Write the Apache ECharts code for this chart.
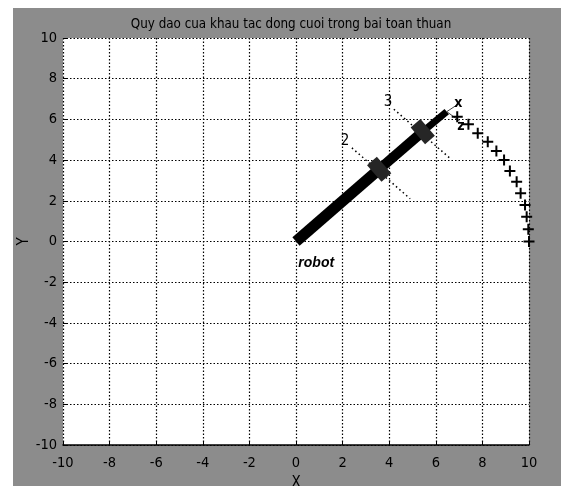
<!DOCTYPE html>
<html><head><meta charset="utf-8">
<script src="https://cdn.jsdelivr.net/npm/echarts@6/dist/echarts.min.js"></script>
<style>
html,body{margin:0;padding:0;background:#fff;}
#bg{position:absolute;left:13px;top:8px;width:548px;height:478px;background:#8c8c8c;}
#chart{position:absolute;left:0;top:0;width:561px;height:486px;}
</style></head>
<body><div id="bg"></div><div id="chart"></div>
<script>
// Axis ticks
const xTicks = [-10,-8,-6,-4,-2,0,2,4,6,8,10];
const yTicks = [-10,-8,-6,-4,-2,0,2,4,6,8,10];
// Robot arm joints (base, joint 2, joint 3, end effector)
const jointX = [0, 3.57, 5.44, 6.47];
const jointY = [0, 3.55, 5.40, 6.38];
// Trajectory of end effector ("+" markers)
const trajX = [6.92, 7.40, 7.80, 8.23, 8.60, 8.93, 9.18, 9.47, 9.64, 9.83, 9.90, 9.97, 10.0];
const trajY = [6.13, 5.76, 5.32, 4.90, 4.45, 4.00, 3.46, 2.94, 2.37, 1.79, 1.22, 0.60, 0.0];
// Dotted joint axis lines
const axis2X = [2.4, 4.9], axis2Y = [4.6, 2.1];
const axis3X = [4.2, 6.6], axis3Y = [6.5, 4.1];
// End-effector frame lines
const frameXx = [6.47, 6.92], frameXy = [6.38, 6.72];
const frameZx = [6.47, 7.02], frameZy = [6.38, 5.92];
// Text labels
const labelText = ['2', '3', 'x', 'z', 'robot'];
const labelX = [2.1, 3.95, 6.97, 7.08, 0.1];
const labelY = [4.95, 6.85, 6.8, 5.65, -1.05];

const font = '"DejaVu Sans Condensed","Liberation Sans Narrow","Arial Narrow","Liberation Sans",Arial,sans-serif';
const chart = echarts.init(document.getElementById('chart'));
const series = [];
const linkW = [11, 10, 7];
for (let i = 0; i < 3; i++) {
  series.push({type:'line', data:[[jointX[i],jointY[i]],[jointX[i+1],jointY[i+1]]], symbol:'none',
    lineStyle:{color:'#000', width:linkW[i], cap:'butt'}, silent:true, z:3});
}
series.push({type:'line', data:[[axis2X[0],axis2Y[0]],[axis2X[1],axis2Y[1]]], symbol:'none',
  lineStyle:{color:'#000', width:1.5, type:[1.5,3]}, z:2});
series.push({type:'line', data:[[axis3X[0],axis3Y[0]],[axis3X[1],axis3Y[1]]], symbol:'none',
  lineStyle:{color:'#000', width:1.5, type:[1.5,3]}, z:2});
series.push({type:'line', data:[[frameXx[0],frameXy[0]],[frameXx[1],frameXy[1]]], symbol:'none',
  lineStyle:{color:'#444', width:1}, z:4});
series.push({type:'line', data:[[frameZx[0],frameZy[0]],[frameZx[1],frameZy[1]]], symbol:'none',
  lineStyle:{color:'#444', width:1}, z:4});
// joints
series.push({type:'scatter', data:[[jointX[1],jointY[1]],[jointX[2],jointY[2]]], symbol:'rect',
  symbolSize:[13,22], symbolRotate:41, itemStyle:{color:'#262626', opacity:1}, z:5});
// trajectory
series.push({type:'scatter', data:trajX.map((x,i)=>[x,trajY[i]]), symbol:'path://M0,5L10,5M5,0L5,10',
  symbolSize:11, itemStyle:{color:'none', borderColor:'#000', borderWidth:2, opacity:1}, z:6});
// labels
const labelData = labelText.map((t,i)=>({value:[labelX[i],labelY[i]], name:t}));
labelData[4].label = {fontStyle:'italic', fontWeight:'bold', fontFamily:'"Liberation Sans",Arial,sans-serif', fontSize:14, align:'left'};
labelData[2].label = {fontWeight:'bold', fontSize:14};
labelData[3].label = {fontWeight:'bold', fontSize:14};
series.push({type:'scatter', data:labelData, symbol:'circle', symbolSize:1,
  itemStyle:{color:'rgba(0,0,0,0)', opacity:1},
  label:{show:true, position:'inside', formatter:p=>p.name, color:'#000', opacity:1, fontFamily:font, fontSize:15},
  z:7});

chart.setOption({
  animation:false,
  backgroundColor:'transparent',
  title:{text:'Quy dao cua khau tac dong cuoi trong bai toan thuan', left:286, textAlign:'center', top:13,
    textStyle:{fontFamily:font, fontSize:13.3, fontWeight:'normal', color:'#000'}},
  grid:{left:63, right:32, top:38, bottom:41, show:true, backgroundColor:'#fff', borderWidth:0, outerBoundsMode:'none', containLabel:false},
  xAxis:{type:'value', min:xTicks[0], max:xTicks[xTicks.length-1], interval:2, name:'X', nameLocation:'middle', nameGap:31,
    nameMoveOverlap:false,
    nameTextStyle:{fontFamily:font, fontSize:15, color:'#000'},
    axisLine:{show:true, onZero:false, lineStyle:{color:'#000', width:1.5}},
    axisTick:{show:true, inside:true, length:4, lineStyle:{color:'#000'}},
    axisLabel:{fontFamily:font, fontSize:14.5, color:'#000', margin:11},
    splitLine:{show:true, lineStyle:{color:'#000', width:1.2, type:[1.5,2]}}},
  yAxis:{type:'value', min:yTicks[0], max:yTicks[yTicks.length-1], interval:2, name:'Y', nameLocation:'middle', nameGap:31,
    nameMoveOverlap:false,
    nameTextStyle:{fontFamily:font, fontSize:15, color:'#000'},
    axisLine:{show:false, onZero:false},
    axisTick:{show:true, inside:true, length:4, lineStyle:{color:'#000'}},
    axisLabel:{fontFamily:font, fontSize:14.5, color:'#000', margin:6},
    splitLine:{show:true, lineStyle:{color:'#000', width:1.2, type:[1.5,2]}}},
  series:series
});
</script></body></html>
